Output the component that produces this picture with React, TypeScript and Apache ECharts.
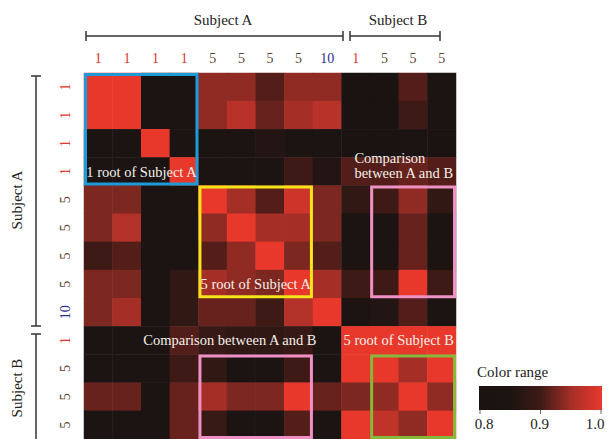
import React, { useEffect, useRef } from "react";
import * as echarts from "echarts";

// Tick labels (number of roots) for the 13 samples, same order on both axes
const sampleLabels = ["1", "1", "1", "1", "5", "5", "5", "5", "10", "1", "5", "5", "5"];
const labelColors: Record<string, string> = { "1": "#e0342a", "5": "#5a4535", "10": "#2e2e8c" };

// Similarity matrix (rows top→bottom, columns left→right), range 0.8–1.0
const row0 = [1.0, 1.0, 0.83, 0.85, 0.94, 0.94, 0.91, 0.94, 0.94, 0.82, 0.82, 0.91, 0.83];
const row1 = [1.0, 1.0, 0.83, 0.84, 0.94, 0.965, 0.92, 0.95, 0.965, 0.82, 0.82, 0.9, 0.83];
const row2 = [0.83, 0.83, 1.0, 0.83, 0.83, 0.83, 0.86, 0.84, 0.83, 0.82, 0.82, 0.83, 0.82];
const row3 = [0.83, 0.83, 0.83, 1.0, 0.84, 0.84, 0.85, 0.9, 0.86, 0.91, 0.91, 0.92, 0.91];
const row4 = [0.93, 0.93, 0.83, 0.83, 1.0, 0.95, 0.91, 0.98, 0.93, 0.88, 0.9, 0.94, 0.88];
const row5 = [0.93, 0.96, 0.83, 0.83, 0.94, 1.0, 0.95, 0.95, 0.93, 0.83, 0.83, 0.92, 0.83];
const row6 = [0.9, 0.91, 0.83, 0.83, 0.91, 0.94, 1.0, 0.93, 0.91, 0.83, 0.83, 0.92, 0.83];
const row7 = [0.93, 0.93, 0.83, 0.88, 0.95, 0.94, 0.93, 1.0, 0.95, 0.9, 0.9, 1.0, 0.9];
const row8 = [0.93, 0.95, 0.83, 0.88, 0.92, 0.92, 0.9, 0.96, 1.0, 0.83, 0.86, 0.91, 0.83];
const row9 = [0.83, 0.83, 0.83, 0.91, 0.89, 0.88, 0.88, 0.89, 0.83, 1.0, 1.0, 1.0, 1.0];
const row10 = [0.83, 0.83, 0.83, 0.9, 0.88, 0.83, 0.83, 0.9, 0.83, 1.0, 1.0, 0.95, 1.0];
const row11 = [0.92, 0.92, 0.83, 0.92, 0.95, 0.93, 0.93, 1.0, 0.92, 0.93, 0.94, 1.0, 0.94];
const row12 = [0.83, 0.83, 0.83, 0.92, 0.89, 0.83, 0.83, 0.91, 0.83, 1.0, 0.97, 0.94, 1.0];
const matrix = [row0, row1, row2, row3, row4, row5, row6, row7, row8, row9, row10, row11, row12];

// Highlight boxes: [colStart, rowStart, colEnd, rowEnd]
const boxRanges = [
  [0, 0, 3, 3],
  [4, 4, 7, 7],
  [10, 4, 12, 7],
  [4, 10, 7, 12],
  [10, 10, 12, 12],
];
const boxColors = ["#1e9ad8", "#f4e41a", "#ee90c4", "#ee90c4", "#86b83c"];

// Annotations: text, anchor col, anchor row, offsets in cell units, alignment
const noteTexts = [
  "1 root of Subject A",
  "Comparison\nbetween A and B",
  "5 root of Subject A",
  "Comparison between A and B",
  "5 root of Subject B",
];
const noteAnchors = [
  [0, 3],
  [9, 3],
  [5, 7],
  [5, 9],
  [10, 9],
];
const noteOffsets = [
  [-0.42, 0],
  [-0.05, -0.22],
  [0.5, 0],
  [-0.4, 0],
  [0.5, 0],
];
const noteAligns = ["left", "left", "center", "center", "center"];

const scaleMin = 0.8;
const scaleMax = 1.0;
const scaleTicks = ["0.8", "0.9", "1.0"];
const rampColors = ["#1a1311", "#1c1412", "#3e1a16", "#a52f27", "#e8382c"];

const SERIF = "'Liberation Serif', 'DejaVu Serif', serif";

export default function App() {
  const ref = useRef<HTMLDivElement>(null);

  useEffect(() => {
    const chart = echarts.init(ref.current!, null, { renderer: "svg" });

    const heatData: number[][] = [];
    matrix.forEach((row, r) => row.forEach((v, c) => heatData.push([c, r, v])));

    const idx = sampleLabels.map((_, i) => String(i));
    const dark = "#333";

    const gradStops = rampColors.map((color, i) => ({ offset: i / (rampColors.length - 1), color }));

    const option: any = {
      animation: false,
      backgroundColor: "#ffffff",
      grid: { left: 84, top: 73, width: 372, height: 372 },
      xAxis: {
        type: "category",
        position: "top",
        data: idx,
        axisLine: { show: false },
        axisTick: { show: false },
        splitLine: { show: false },
        axisLabel: {
          margin: 8,
          fontFamily: SERIF,
          fontSize: 14,
          formatter: (v: string) => sampleLabels[parseInt(v, 10)],
          color: (v: string) => labelColors[sampleLabels[parseInt(v, 10)]],
        },
      },
      yAxis: {
        type: "category",
        inverse: true,
        data: idx,
        axisLine: { show: false },
        axisTick: { show: false },
        splitLine: { show: false },
        axisLabel: {
          margin: 12,
          rotate: 90,
          fontFamily: SERIF,
          fontSize: 14,
          formatter: (v: string) => sampleLabels[parseInt(v, 10)],
          color: (v: string) => labelColors[sampleLabels[parseInt(v, 10)]],
        },
      },
      visualMap: {
        show: false,
        type: "continuous",
        min: scaleMin,
        max: scaleMax,
        dimension: 2,
        seriesIndex: 0,
        inRange: { color: rampColors },
      },
      series: [
        {
          type: "heatmap",
          data: heatData,
          itemStyle: { borderWidth: 0 },
          emphasis: { disabled: true },
          silent: true,
        },
        {
          type: "custom",
          coordinateSystem: "cartesian2d",
          silent: true,
          z: 10,
          data: boxRanges,
          encode: { x: [0, 2], y: [1, 3] },
          renderItem: (params: any, api: any) => {
            const p0 = api.coord([api.value(0), api.value(1)]);
            const p1 = api.coord([api.value(2), api.value(3)]);
            const s = api.size([1, 1]);
            return {
              type: "rect",
              shape: {
                x: p0[0] - s[0] / 2 + 1.5,
                y: p0[1] - s[1] / 2 + 1.5,
                width: p1[0] - p0[0] + s[0] - 3,
                height: p1[1] - p0[1] + s[1] - 3,
              },
              style: { fill: "none", stroke: boxColors[params.dataIndex], lineWidth: 3 },
            };
          },
        },
        {
          type: "custom",
          coordinateSystem: "cartesian2d",
          silent: true,
          z: 11,
          data: noteAnchors,
          encode: { x: 0, y: 1 },
          renderItem: (params: any, api: any) => {
            const i = params.dataIndex;
            const p = api.coord([api.value(0), api.value(1)]);
            const s = api.size([1, 1]);
            return {
              type: "text",
              x: p[0] + noteOffsets[i][0] * s[0],
              y: p[1] + noteOffsets[i][1] * s[1],
              style: {
                text: noteTexts[i],
                fill: "#f4f0ea",
                fontFamily: SERIF,
                fontSize: 14.5,
                lineHeight: 15,
                align: noteAligns[i],
                verticalAlign: "middle",
              },
            };
          },
        },
      ],
      graphic: [
        // top brackets
        { type: "line", shape: { x1: 86, y1: 36, x2: 343, y2: 36 }, style: { stroke: dark, lineWidth: 1.5 } },
        { type: "line", shape: { x1: 86, y1: 31, x2: 86, y2: 41 }, style: { stroke: dark, lineWidth: 1.5 } },
        { type: "line", shape: { x1: 343, y1: 31, x2: 343, y2: 41 }, style: { stroke: dark, lineWidth: 1.5 } },
        { type: "line", shape: { x1: 350, y1: 36, x2: 440, y2: 36 }, style: { stroke: dark, lineWidth: 1.5 } },
        { type: "line", shape: { x1: 350, y1: 31, x2: 350, y2: 41 }, style: { stroke: dark, lineWidth: 1.5 } },
        { type: "line", shape: { x1: 440, y1: 31, x2: 440, y2: 41 }, style: { stroke: dark, lineWidth: 1.5 } },
        {
          type: "text", x: 223, y: 20,
          style: { text: "Subject A", fill: "#222", fontFamily: SERIF, fontSize: 15, align: "center", verticalAlign: "middle" },
        },
        {
          type: "text", x: 398, y: 20,
          style: { text: "Subject B", fill: "#222", fontFamily: SERIF, fontSize: 15, align: "center", verticalAlign: "middle" },
        },
        // left brackets
        { type: "line", shape: { x1: 36, y1: 76, x2: 36, y2: 326 }, style: { stroke: dark, lineWidth: 1.5 } },
        { type: "line", shape: { x1: 31, y1: 76, x2: 41, y2: 76 }, style: { stroke: dark, lineWidth: 1.5 } },
        { type: "line", shape: { x1: 31, y1: 326, x2: 41, y2: 326 }, style: { stroke: dark, lineWidth: 1.5 } },
        { type: "line", shape: { x1: 36, y1: 334, x2: 36, y2: 460 }, style: { stroke: dark, lineWidth: 1.5 } },
        { type: "line", shape: { x1: 31, y1: 334, x2: 41, y2: 334 }, style: { stroke: dark, lineWidth: 1.5 } },
        {
          type: "text", x: 17, y: 200, rotation: Math.PI / 2,
          style: { text: "Subject A", fill: "#222", fontFamily: SERIF, fontSize: 15, align: "center", verticalAlign: "middle" },
        },
        {
          type: "text", x: 17, y: 388, rotation: Math.PI / 2,
          style: { text: "Subject B", fill: "#222", fontFamily: SERIF, fontSize: 15, align: "center", verticalAlign: "middle" },
        },
        // colour range legend
        {
          type: "text", x: 477, y: 372,
          style: { text: "Color range", fill: "#222", fontFamily: SERIF, fontSize: 15, align: "left", verticalAlign: "middle" },
        },
        {
          type: "rect", shape: { x: 479, y: 386, width: 123, height: 24 },
          style: { fill: new echarts.graphic.LinearGradient(0, 0, 1, 0, gradStops) },
        },
        ...scaleTicks.map((t, i) => ({
          type: "line",
          shape: { x1: 480 + i * 60.5, y1: 410, x2: 480 + i * 60.5, y2: 414 },
          style: { stroke: "#666", lineWidth: 1 },
        })),
        ...scaleTicks.map((t, i) => ({
          type: "text",
          x: 484 + i * 55.5,
          y: 424,
          style: { text: t, fill: "#222", fontFamily: SERIF, fontSize: 15, align: "center", verticalAlign: "middle" },
        })),
      ],
    };

    chart.setOption(option);
    return () => chart.dispose();
  }, []);

  return (
    <div
      ref={ref}
      style={{ position: "fixed", left: 0, top: 0, width: 611, height: 439, background: "#ffffff" }}
    />
  );
}
